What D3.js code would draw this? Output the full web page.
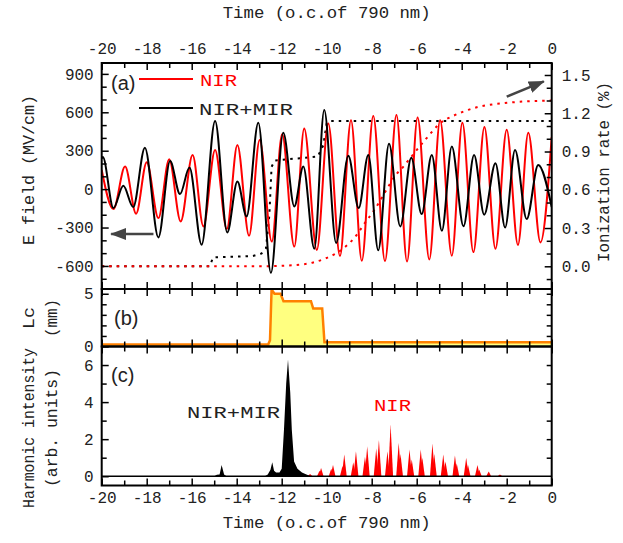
<!DOCTYPE html>
<html>
<head>
<meta charset="utf-8">
<script src="https://cdn.jsdelivr.net/npm/d3@7"></script>
<style>
  body { margin: 0; background: #fff; }
  svg { display: block; font-family: "Liberation Mono", monospace; }
</style>
</head>
<body>
<div id="chart"></div>
<script>
// E field (MV/cm) extrema: [time in o.c., field]
const nirField = [
  [-20, 150], [-19.48, -156], [-18.96, 176], [-18.47, -192], [-18.0, 210], [-17.48, -226],
  [-17.0, 234], [-16.49, -252], [-15.96, 267], [-15.48, -291], [-14.96, 306], [-14.44, -312],
  [-13.97, 345], [-13.45, -364], [-12.98, 384], [-12.44, -410], [-11.98, 428], [-11.44, -449],
  [-11.0, 473], [-10.44, -475], [-9.93, 512], [-9.41, -523], [-8.92, 538], [-8.44, -560],
  [-7.93, 571], [-7.41, -562], [-6.9, 578], [-6.43, -566], [-5.96, 560], [-5.44, -549],
  [-4.96, 538], [-4.44, -520], [-3.97, 518], [-3.48, -492], [-2.99, 486], [-2.5, -466],
  [-2.0, 463], [-1.5, -436], [-1.04, 440], [-0.5, -416], [0, 407]
];
const mixField = [
  [-20, 240], [-19.95, 250], [-19.48, -148], [-19.04, 26], [-18.6, -140], [-18.08, 324],
  [-17.48, -377], [-16.96, 220], [-16.52, -39], [-16.1, 168], [-15.56, -434], [-14.96, 532],
  [-14.42, -338], [-13.97, 59], [-13.56, -213], [-13.04, 518], [-12.48, -654], [-11.93, 441],
  [-11.44, -135], [-11.04, 176], [-10.55, -465], [-10.11, 618], [-9.58, -421], [-9.04, 260],
  [-8.58, -148], [-8.15, 267], [-7.71, -478], [-7.23, 355], [-6.73, -291], [-6.24, 245],
  [-5.78, -195], [-5.33, 267], [-4.88, -325], [-4.44, 332], [-3.92, -290], [-3.45, 267],
  [-3.0, -200], [-2.5, 203], [-2.07, -300], [-1.63, 306], [-1.11, -234], [-0.6, 189], [0, -140]
];
// ionization rate (%), dotted curves
const nirRate = [
  [-20, 0], [-13, 0], [-11.4, 0.01], [-10.6, 0.03], [-10.08, 0.06], [-9.6, 0.1], [-9.19, 0.15],
  [-8.74, 0.23], [-8.3, 0.34], [-7.85, 0.45], [-7.41, 0.58], [-6.96, 0.71], [-6.6, 0.78],
  [-6.37, 0.83], [-5.63, 0.99], [-4.9, 1.13], [-4.37, 1.18], [-3.26, 1.25], [-2.08, 1.28], [0, 1.30]
];
const mixRate = [
  [-20, 0], [-15.2, 0], [-15.05, 0.07], [-13.3, 0.08], [-12.9, 0.1], [-12.7, 0.14], [-12.55, 0.4],
  [-12.45, 0.78], [-12.3, 0.83], [-10.4, 0.86], [-10.15, 0.95], [-10.0, 1.12], [-9.8, 1.14], [0, 1.14]
];
// coherence length Lc (mm), panel (b)
const coherence = [
  [-20, 0.2], [-12.6, 0.2], [-12.52, 0.6], [-12.45, 5.4], [-12.32, 5.0], [-12.05, 5.0],
  [-11.92, 4.3], [-10.7, 4.3], [-10.6, 3.6], [-10.2, 3.6], [-10.1, 0.4], [0, 0.4]
];
// harmonic intensity (arb. units), panel (c)
const mixHarm = [
  [-20, 0], [-15.0, 0], [-14.88, 0.08], [-14.76, 0.1], [-14.67, 0.6], [-14.56, 0.1], [-14.45, 0],
  [-12.75, 0], [-12.62, 0.1], [-12.5, 0.35], [-12.42, 0.75], [-12.34, 0.3], [-12.25, 0.2],
  [-12.1, 0.2], [-12.0, 0.4], [-11.9, 2.5], [-11.8, 5.0], [-11.72, 6.3], [-11.62, 4.5],
  [-11.55, 2.5], [-11.45, 0.8], [-11.3, 0.4], [-11.1, 0.2], [-10.9, 0.1], [-10.7, 0], [0, 0]
];
const nirHarm = [
  [-10.92, 0.05], [-10.74, 0.12], [-10.32, 0.3], [-10.25, 0.45], [-9.8, 0.4], [-9.72, 0.6],
  [-9.3, 0.55], [-9.22, 1.17], [-8.82, 0.75], [-8.7, 1.35], [-8.3, 1.05], [-8.2, 1.62],
  [-7.8, 1.5], [-7.68, 1.95], [-7.3, 1.35], [-7.16, 2.81], [-6.8, 1.8], [-6.72, 1.2],
  [-6.32, 1.44], [-6.22, 0.9], [-5.82, 1.44], [-5.75, 1.0], [-5.3, 1.77], [-5.22, 1.2],
  [-4.82, 1.17], [-4.72, 0.8], [-4.3, 1.12], [-4.22, 0.7], [-3.8, 1.0], [-3.72, 0.6],
  [-3.3, 0.6], [-3.22, 0.35], [-2.8, 0.25], [-2.3, 0.1]
];
const timeLabels = [-20, -18, -16, -14, -12, -10, -8, -6, -4, -2, 0];
const timeMinor = [-19, -17, -15, -13, -11, -9, -7, -5, -3, -1];
const fieldLabels = [-600, -300, 0, 300, 600, 900];
const rateLabels = [0, 0.3, 0.6, 0.9, 1.2, 1.5];
const lcLabels = [0, 5];
const harmLabels = [0, 2, 4, 6];

const W = 623, H = 543;
const svg = d3.select("#chart").append("svg").attr("width", W).attr("height", H);

const x = d3.scaleLinear([-20, 0], [101.7, 551.7]);
const yA = d3.scaleLinear([-780, 985], [289, 63]);
const yR = d3.scaleLinear([-0.178, 1.594], [289, 63]);
const yB = d3.scaleLinear([0, 5.45], [346.5, 289]);
const yC = d3.scaleLinear([-0.5, 7], [485.5, 346.5]);

const left = x.range()[0], right = x.range()[1];

function addAxis(gen, scale, values, size, fmt, pos, pad) {
  const ax = gen(scale).tickValues(values).tickSizeInner(-size).tickSizeOuter(0)
    .tickPadding(pad || 7).tickFormat(fmt || (() => ""));
  const g = svg.append("g").attr("transform", pos).call(ax);
  g.select(".domain").remove();
  g.selectAll("line").attr("stroke", "#000").attr("stroke-width", 1.5);
  g.selectAll("text").attr("font-size", 16).attr("fill", "#222")
    .attr("font-family", "Liberation Mono");
  return g;
}
const fmtInt = d => String(d);

// clip paths for each panel
function clip(id, y0, y1) {
  svg.append("clipPath").attr("id", id).append("rect")
    .attr("x", left).attr("y", y0).attr("width", right - left).attr("height", y1 - y0);
}
clip("ca", yA.range()[1], yA.range()[0]);
clip("cb", yB.range()[1], yB.range()[0]);
clip("cc", yC.range()[1], yC.range()[0]);

// ---- panel (a)
const pa = svg.append("g").attr("clip-path", "url(#ca)");
pa.append("path").attr("d", d3.line().x(d => x(d[0])).y(d => yR(d[1]))(mixRate))
  .attr("fill", "none").attr("stroke", "#000").attr("stroke-width", 2).attr("stroke-dasharray", "2.5,5");
pa.append("path").attr("d", d3.line().x(d => x(d[0])).y(d => yR(d[1])).curve(d3.curveMonotoneX)(nirRate))
  .attr("fill", "none").attr("stroke", "#ff0000").attr("stroke-width", 2).attr("stroke-dasharray", "2.5,5");

const fieldLine = d3.line().x(d => x(d[0])).y(d => yA(d[1])).curve(d3.curveMonotoneX);
pa.append("path").attr("d", fieldLine(nirField)).attr("fill", "none")
  .attr("stroke", "#ff0000").attr("stroke-width", 2);
pa.append("path").attr("d", fieldLine(mixField)).attr("fill", "none")
  .attr("stroke", "#000").attr("stroke-width", 2);

// arrows
const defs = svg.append("defs");
defs.append("marker").attr("id", "head").attr("viewBox", "0 0 16 12")
  .attr("refX", 15).attr("refY", 6).attr("markerWidth", 16).attr("markerHeight", 12)
  .attr("markerUnits", "userSpaceOnUse").attr("orient", "auto")
  .append("path").attr("d", "M0,0L16,6L0,12z").attr("fill", "#444");
svg.append("line").attr("x1", x(-17.7)).attr("y1", yA(-350)).attr("x2", x(-19.58)).attr("y2", yA(-350))
  .attr("stroke", "#444").attr("stroke-width", 2.5).attr("marker-end", "url(#head)");
svg.append("line").attr("x1", x(-2.0)).attr("y1", yR(1.33)).attr("x2", x(-0.35)).attr("y2", yR(1.45))
  .attr("stroke", "#444").attr("stroke-width", 2.5).attr("marker-end", "url(#head)");

// legend
const leg = svg.append("g");
leg.append("line").attr("x1", 139).attr("x2", 193).attr("y1", 79).attr("y2", 79)
  .attr("stroke", "#ff0000").attr("stroke-width", 2);
leg.append("text").attr("x", 200).attr("y", 86).attr("font-size", 17).attr("fill", "#ff0000")
  .attr("textLength", 37).attr("lengthAdjust", "spacingAndGlyphs").text("NIR");
leg.append("line").attr("x1", 139).attr("x2", 193).attr("y1", 108).attr("y2", 108)
  .attr("stroke", "#000").attr("stroke-width", 2);
leg.append("text").attr("x", 199).attr("y", 115).attr("font-size", 17).attr("fill", "#222")
  .attr("textLength", 94).attr("lengthAdjust", "spacingAndGlyphs").text("NIR+MIR");
svg.append("text").attr("x", 111).attr("y", 90).attr("font-size", 20).attr("fill", "#222")
  .attr("font-family", "Liberation Sans").text("(a)");

// ---- panel (b)
const pb = svg.append("g").attr("clip-path", "url(#cb)");
pb.append("path").attr("d", d3.area().x(d => x(d[0])).y0(yB(0)).y1(d => yB(d[1]))(coherence))
  .attr("fill", "#ffff80");
pb.append("path").attr("d", d3.line().x(d => x(d[0])).y(d => yB(d[1]))(coherence))
  .attr("fill", "none").attr("stroke", "#ff8000").attr("stroke-width", 2.5);
svg.append("text").attr("x", 114).attr("y", 325).attr("font-size", 20).attr("fill", "#222")
  .attr("font-family", "Liberation Sans").text("(b)");

// ---- panel (c)
const pc = svg.append("g").attr("clip-path", "url(#cc)");
const spike = d3.area().x(d => x(d[0])).y0(yC(0)).y1(d => yC(d[1]));
nirHarm.forEach(p => {
  pc.append("path").attr("d", spike([[p[0] - 0.11, 0], p, [p[0] + 0.11, 0]])).attr("fill", "#ff0000");
});
pc.append("path").attr("d", spike(mixHarm)).attr("fill", "#000");
pc.append("path").attr("d", d3.line().x(d => x(d[0])).y(d => yC(d[1]))([[-20, 0], [0, 0]]))
  .attr("stroke", "#000").attr("stroke-width", 1.5);
svg.append("text").attr("x", 111).attr("y", 382).attr("font-size", 20).attr("fill", "#222")
  .attr("font-family", "Liberation Sans").text("(c)");
svg.append("text").attr("x", 187).attr("y", 418).attr("font-size", 17).attr("fill", "#222")
  .attr("textLength", 93).attr("lengthAdjust", "spacingAndGlyphs").text("NIR+MIR");
svg.append("text").attr("x", 374).attr("y", 411).attr("font-size", 17).attr("fill", "#ff0000")
  .attr("textLength", 37).attr("lengthAdjust", "spacingAndGlyphs").text("NIR");

// ---- axes
const [aT, aB] = [yA.range()[1], yA.range()[0]];
const [bT, bB] = [yB.range()[1], yB.range()[0]];
const [cT, cB] = [yC.range()[1], yC.range()[0]];

// time ticks on every horizontal edge
addAxis(d3.axisTop, x, timeLabels, 7, fmtInt, `translate(0,${aT})`, 9);
addAxis(d3.axisTop, x, timeMinor, 5, null, `translate(0,${aT})`);
[aB, bB].forEach(yy => {
  addAxis(d3.axisBottom, x, timeLabels, 7, null, `translate(0,${yy})`);
  addAxis(d3.axisBottom, x, timeMinor, 5, null, `translate(0,${yy})`);
});
[bT, cT].forEach(yy => {
  addAxis(d3.axisTop, x, timeLabels, 7, null, `translate(0,${yy})`);
  addAxis(d3.axisTop, x, timeMinor, 5, null, `translate(0,${yy})`);
});
addAxis(d3.axisBottom, x, timeLabels, 7, fmtInt, `translate(0,${cB})`, 6);
addAxis(d3.axisBottom, x, timeMinor, 5, null, `translate(0,${cB})`);

// panel (a) left and right
addAxis(d3.axisLeft, yA, fieldLabels, 7, fmtInt, `translate(${left},0)`, 8);
addAxis(d3.axisLeft, yA, d3.range(-700, 901, 100).filter(v => v % 300 !== 0), 5, null, `translate(${left},0)`);
addAxis(d3.axisRight, yR, rateLabels, 7, d3.format(".1f"), `translate(${right},0)`, 10);
addAxis(d3.axisRight, yR, [-0.1, 0.1, 0.2, 0.4, 0.5, 0.7, 0.8, 1.0, 1.1, 1.3, 1.4], 5, null, `translate(${right},0)`);
// panel (b)
addAxis(d3.axisLeft, yB, lcLabels, 7, fmtInt, `translate(${left},0)`, 8);
addAxis(d3.axisLeft, yB, [1, 2, 3, 4], 5, null, `translate(${left},0)`);
addAxis(d3.axisRight, yB, [1, 2, 3, 4, 5], 5, null, `translate(${right},0)`);
// panel (c)
addAxis(d3.axisLeft, yC, harmLabels, 7, fmtInt, `translate(${left},0)`, 8);
addAxis(d3.axisLeft, yC, [1, 3, 5], 5, null, `translate(${left},0)`);
addAxis(d3.axisRight, yC, [1, 2, 3, 4, 5, 6], 5, null, `translate(${right},0)`);

// frames
[[aT, aB], [bT, bB], [cT, cB]].forEach(([t, b]) => {
  svg.append("rect").attr("x", left).attr("y", t).attr("width", right - left).attr("height", b - t)
    .attr("fill", "none").attr("stroke", "#000").attr("stroke-width", 2);
});

// axis titles
const mid = (left + right) / 2;
svg.append("text").attr("x", mid).attr("y", 18).attr("text-anchor", "middle").attr("font-size", 17)
  .attr("fill", "#222").attr("textLength", 208).attr("lengthAdjust", "spacingAndGlyphs").text("Time (o.c.of 790 nm)");
svg.append("text").attr("x", mid).attr("y", 528).attr("text-anchor", "middle").attr("font-size", 17)
  .attr("fill", "#222").attr("textLength", 208).attr("lengthAdjust", "spacingAndGlyphs").text("Time (o.c.of 790 nm)");

function vtext(cx, cy, len, str, size) {
  svg.append("text").attr("transform", `translate(${cx},${cy}) rotate(-90)`)
    .attr("text-anchor", "middle").attr("dy", "0.35em").attr("font-size", size || 17).attr("fill", "#222")
    .attr("textLength", len).attr("lengthAdjust", "spacingAndGlyphs").text(str);
}
vtext(28, 170, 150, "E field (MV/cm)");
vtext(603, 172, 180, "Ionization rate (%)");
vtext(28, 318, 22, "Lc");
vtext(51, 318, 38, "(mm)");
vtext(28, 428, 160, "Harmonic intensity");
vtext(51, 428, 118, "(arb. units)");
</script>
</body>
</html>
